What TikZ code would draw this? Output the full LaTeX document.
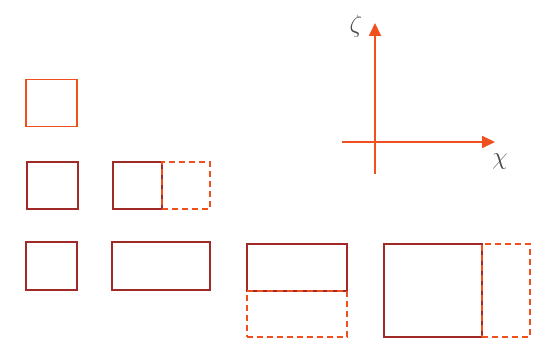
\documentclass[tikz,border=0pt]{standalone}
\usepackage{amsmath}
\usepackage{tikz}
\usetikzlibrary{arrows.meta,positioning}
\definecolor{boxred}{HTML}{A02A28}
\definecolor{axisorange}{HTML}{F0501E}
\definecolor{labelgray}{HTML}{4A4A4A}

\begin{document}
\begin{tikzpicture}[x=1pt, y=-1pt, >={Triangle[length=13pt,width=12pt]}]
        \tikzset{solidbox/.style={draw=boxred, line width=1.8pt, inner sep=0pt, anchor=north west},
                 firstbox/.style={solidbox, draw=axisorange, line width=1.5pt},
                 ghostbox/.style={draw=axisorange, line width=1.8pt, dash pattern=on 6pt off 4pt, inner sep=0pt, anchor=north west},
                 axis/.style={draw=axisorange, line width=1.8pt, ->},
                 axlabel/.style={text=labelgray, font=\fontsize{31}{34}\selectfont}}
        \useasboundingbox (0,0) rectangle (533,339);

        % top left
        \node[firstbox, minimum width=51pt, minimum height=47pt] (b1) at (25,79) {};

        % middle row
        \node[solidbox, minimum width=51pt, minimum height=47pt] (b2) at (26,161) {};
        \node[solidbox, minimum width=49pt, minimum height=47pt] (b3) at (112,161) {};
        \node[ghostbox, minimum width=48pt, minimum height=47pt] (g3) at (161,161) {};

        % bottom row
        \node[solidbox, minimum width=51pt, minimum height=48pt] (b4) at (25,241) {};
        \node[solidbox, minimum width=98pt, minimum height=48pt] (b5) at (111,241) {};
        \node[solidbox, minimum width=100pt, minimum height=47pt] (b6) at (246,243) {};
        \node[ghostbox, minimum width=100pt, minimum height=46pt] (g6) at (246,290) {};
        \node[solidbox, minimum width=98pt, minimum height=93pt] (b7) at (383,243) {};
        \node[ghostbox, minimum width=48pt, minimum height=93pt] (g7) at (481,243) {};

        % axes
        \coordinate (o) at (375,142);
        \coordinate (zlow) at (375,174);
        \coordinate (ztop) at (375,23);
        \coordinate (xleft) at (342,142);
        \coordinate (xright) at (495,142);
        \draw[axis] (zlow) -- (ztop);
        \draw[axis] (xleft) -- (xright);
        \node[axlabel] (zeta) at (356,26) {$\zeta$};
        \node[axlabel] (chi) at (500,162) {$\chi$};
    \end{tikzpicture}
\end{document}
